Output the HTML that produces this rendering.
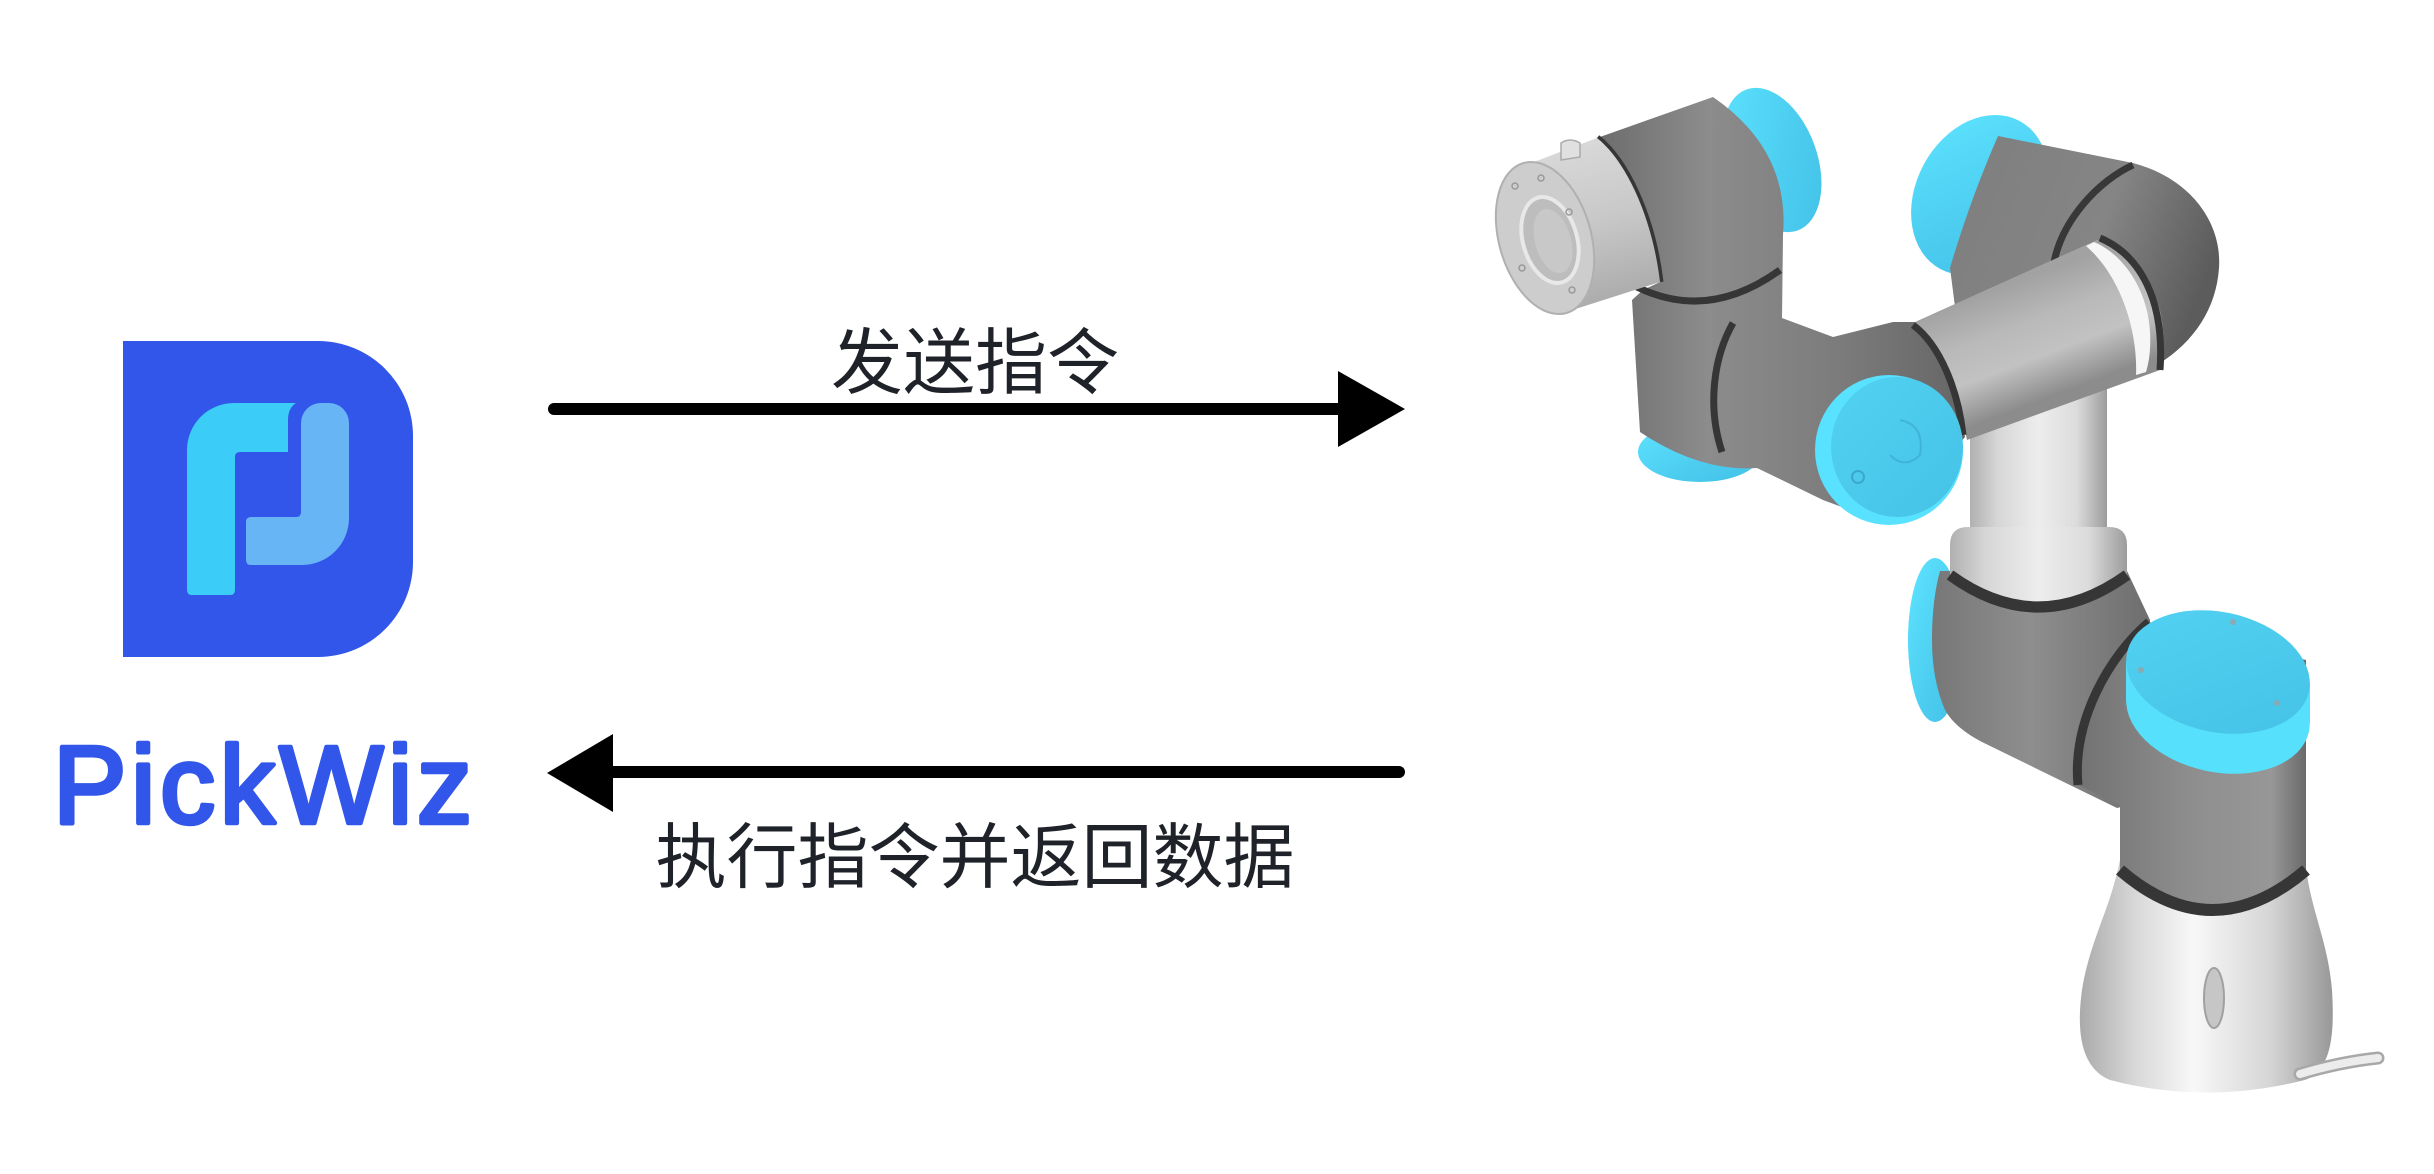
<!DOCTYPE html>
<html>
<head>
<meta charset="utf-8">
<style>
html,body{margin:0;padding:0;background:#fff;}
body{width:2434px;height:1174px;overflow:hidden;}
svg{display:block;}
</style>
</head>
<body>
<svg width="2434" height="1174" viewBox="0 0 2434 1174" xmlns="http://www.w3.org/2000/svg">
<defs>
  <linearGradient id="cyan" x1="0" y1="0" x2="1" y2="1">
    <stop offset="0" stop-color="#5ee4ff"/>
    <stop offset="0.6" stop-color="#4ccdf0"/>
    <stop offset="1" stop-color="#42c0e6"/>
  </linearGradient>
  <linearGradient id="cyanFace" x1="0" y1="0" x2="1" y2="1">
    <stop offset="0" stop-color="#52d2f2"/>
    <stop offset="1" stop-color="#45c2e6"/>
  </linearGradient>
  <linearGradient id="darkH" x1="0" y1="0" x2="1" y2="0">
    <stop offset="0" stop-color="#6c6c6c"/>
    <stop offset="0.3" stop-color="#8c8c8c"/>
    <stop offset="0.65" stop-color="#7c7c7c"/>
    <stop offset="1" stop-color="#666"/>
  </linearGradient>
  <linearGradient id="darkElbow" x1="0" y1="0" x2="1" y2="0.4">
    <stop offset="0" stop-color="#7e7e7e"/>
    <stop offset="0.6" stop-color="#858585"/>
    <stop offset="1" stop-color="#5c5c5c"/>
  </linearGradient>
  <linearGradient id="darkShoulder" x1="0" y1="0" x2="1" y2="0">
    <stop offset="0" stop-color="#777"/>
    <stop offset="0.45" stop-color="#8e8e8e"/>
    <stop offset="1" stop-color="#6e6e6e"/>
  </linearGradient>
  <linearGradient id="darkBase" x1="0" y1="0" x2="1" y2="0">
    <stop offset="0" stop-color="#727272"/>
    <stop offset="0.5" stop-color="#8e8e8e"/>
    <stop offset="0.85" stop-color="#979797"/>
    <stop offset="1" stop-color="#6a6a6a"/>
  </linearGradient>
  <linearGradient id="lgH" x1="0" y1="0" x2="1" y2="0">
    <stop offset="0" stop-color="#b0b0b0"/>
    <stop offset="0.2" stop-color="#d6d6d6"/>
    <stop offset="0.5" stop-color="#ededed"/>
    <stop offset="0.78" stop-color="#dcdcdc"/>
    <stop offset="1" stop-color="#9c9c9c"/>
  </linearGradient>
  <linearGradient id="baseG" x1="0" y1="0" x2="1" y2="0">
    <stop offset="0" stop-color="#aaaaaa"/>
    <stop offset="0.22" stop-color="#d8d8d8"/>
    <stop offset="0.45" stop-color="#f8f8f8"/>
    <stop offset="0.75" stop-color="#d6d6d6"/>
    <stop offset="1" stop-color="#989898"/>
  </linearGradient>
  <linearGradient id="foreG" gradientUnits="userSpaceOnUse" x1="2000" y1="288" x2="2042" y2="400">
    <stop offset="0" stop-color="#a2a2a2"/>
    <stop offset="0.35" stop-color="#b9b9b9"/>
    <stop offset="0.65" stop-color="#c2c2c2"/>
    <stop offset="1" stop-color="#8c8c8c"/>
  </linearGradient>
  <linearGradient id="flangeG" gradientUnits="userSpaceOnUse" x1="1560" y1="150" x2="1600" y2="300">
    <stop offset="0" stop-color="#d8d8d8"/>
    <stop offset="0.5" stop-color="#c8c8c8"/>
    <stop offset="1" stop-color="#adadad"/>
  </linearGradient>
</defs>

<rect width="2434" height="1174" fill="#ffffff"/>

<!-- PickWiz logo -->
<path d="M123,341 H318 A95,95 0 0 1 413,436 V562 A95,95 0 0 1 318,657 H123 Z" fill="#3156e9"/>
<path d="M187,590 V450 A47,47 0 0 1 234,403 H296 Q288,408 288,420 V452 H240 Q235,452 235,457 V590 Q235,595 230,595 H192 Q187,595 187,590 Z" fill="#3bcdf7"/>
<path d="M321,403 H329 A20,20 0 0 1 349,423 V518 A47,47 0 0 1 302,565 H251 Q246,565 246,560 V522 Q246,517 251,517 H296 Q301,517 301,512 V423 A20,20 0 0 1 321,403 Z" fill="#68b5f6"/>
<text x="53" y="823" font-family="'Liberation Sans', sans-serif" font-size="110" fill="#3156e9" stroke="#3156e9" stroke-width="4.5" stroke-linejoin="round" textLength="419" lengthAdjust="spacing">PickWiz</text>

<!-- Arrows -->
<line x1="554" y1="409" x2="1340" y2="409" stroke="#000" stroke-width="12" stroke-linecap="round"/>
<polygon points="1338,371 1405,409 1338,447" fill="#000"/>
<line x1="610" y1="772" x2="1399" y2="772" stroke="#000" stroke-width="12" stroke-linecap="round"/>
<polygon points="613,734 547,773 613,812" fill="#000"/>

<!-- Labels -->
<text x="975" y="388" text-anchor="middle" font-family="'Liberation Sans', 'Noto Sans CJK SC', sans-serif" font-size="72" fill="#1f2329">发送指令</text>
<text x="975" y="882" text-anchor="middle" font-family="'Liberation Sans', 'Noto Sans CJK SC', sans-serif" font-size="71" fill="#1f2329">执行指令并返回数据</text>

<!-- ================= Robot ================= -->
<!-- Elbow cap + housing -->
<ellipse cx="1980" cy="195" rx="64" ry="84" transform="rotate(28 1980 195)" fill="url(#cyan)"/>
<path d="M1998,136 L2133,163 C2190,178 2222,222 2219,268 C2216,312 2190,348 2148,370 L2000,410 L1958,330 L1950,268 Q1970,200 1998,136 Z" fill="url(#darkElbow)"/>
<path d="M2133,165 C2100,180 2060,220 2053,268" fill="none" stroke="#383838" stroke-width="7"/>

<!-- Upper arm -->
<rect x="1970" y="330" width="137" height="200" fill="url(#lgH)"/>

<!-- Base (light gray) -->
<path d="M2120,860 C2110,910 2090,940 2082,990 C2075,1040 2085,1070 2110,1080 Q2205,1105 2305,1080 C2330,1070 2335,1040 2332,990 C2328,940 2310,910 2305,860 Z" fill="url(#baseG)"/>
<path d="M2300,1074 Q2340,1062 2378,1058" fill="none" stroke="#a8a8a8" stroke-width="13" stroke-linecap="round"/>
<path d="M2300,1074 Q2340,1062 2378,1058" fill="none" stroke="#ececec" stroke-width="8" stroke-linecap="round"/>
<ellipse cx="2214" cy="998" rx="10" ry="30" fill="#c6c6c6" stroke="#a0a0a0" stroke-width="2"/>

<!-- Shoulder cap + housing + link -->
<ellipse cx="1935" cy="640" rx="27" ry="82" fill="url(#cyan)"/>
<path d="M1940,571 L2127,571 L2150,620 L2150,800 L2117,808 L1982,742 Q1955,728 1945,710 Q1932,680 1932,640 Q1932,600 1940,571 Z" fill="url(#darkShoulder)"/>

<!-- Collar of upper arm -->
<path d="M1950,578 V545 Q1950,527 1968,527 H2109 Q2127,527 2127,545 V578 Q2038,640 1950,578 Z" fill="url(#lgH)"/>
<path d="M1950,575 Q2038,639 2127,575" fill="none" stroke="#363636" stroke-width="11"/>

<!-- Base joint body -->
<path d="M2149,622 L2306,660 V872 Q2212,950 2120,872 V805 L2078,785 C2072,720 2110,655 2149,622 Z" fill="url(#darkBase)"/>
<path d="M2149,622 C2110,655 2072,720 2078,785" fill="none" stroke="#363636" stroke-width="9"/>
<path d="M2120,870 Q2212,950 2306,870" fill="none" stroke="#363636" stroke-width="12"/>

<!-- Base joint cap -->
<ellipse cx="2218" cy="712" rx="93" ry="60" transform="rotate(12 2218 712)" fill="#56e0fb"/>
<polygon points="2126,661 2310,683 2310,723 2126,701" fill="#56e0fb"/>
<ellipse cx="2218" cy="672" rx="93" ry="60" transform="rotate(12 2218 672)" fill="url(#cyanFace)"/>
<circle cx="2233" cy="622" r="3" fill="#8aa9b3"/>
<circle cx="2141" cy="670" r="3" fill="#8aa9b3"/>
<circle cx="2277" cy="703" r="3" fill="#8aa9b3"/>

<!-- Forearm -->
<path d="M1915,322 L2097,240 C2130,250 2160,285 2163,330 C2165,350 2163,360 2160,370 L1967,440 C1958,395 1940,350 1915,322 Z" fill="url(#foreG)"/>
<path d="M2094,242 C2125,255 2148,292 2150,332 C2151,350 2149,362 2146,372 L2136,375 C2138,330 2120,275 2086,246 Z" fill="#f6f6f6"/>
<path d="M2100,238 C2140,255 2165,300 2160,370" fill="none" stroke="#363636" stroke-width="7"/>

<!-- Wrist caps behind -->
<ellipse cx="1772" cy="160" rx="45" ry="75" transform="rotate(-20 1772 160)" fill="url(#cyan)"/>
<ellipse cx="1700" cy="452" rx="62" ry="30" fill="url(#cyan)"/>

<!-- Wrist dark mass -->
<path d="M1597,138 L1713,97 Q1790,150 1783,235 L1782,318 L1833,337 L1893,322 L1915,322 C1940,345 1958,390 1965,437 L1890,525 L1823,500 L1757,468 Q1700,472 1640,432 L1632,300 L1643,290 L1660,282 Z" fill="url(#darkH)"/>
<path d="M1913,325 C1940,345 1958,390 1963,435" fill="none" stroke="#363636" stroke-width="7"/>
<path d="M1597,138 C1625,160 1652,215 1660,282" fill="none" stroke="#363636" stroke-width="7"/>
<path d="M1637,287 Q1708,322 1780,270" fill="none" stroke="#363636" stroke-width="7"/>
<path d="M1733,323 C1712,360 1708,410 1722,452" fill="none" stroke="#363636" stroke-width="7"/>

<!-- Wrist1 cap -->
<ellipse cx="1889" cy="450" rx="74" ry="75" fill="#58e2ff"/>
<ellipse cx="1897" cy="447" rx="66" ry="70" fill="url(#cyanFace)"/>
<circle cx="1858" cy="477" r="6" fill="none" stroke="#3aa8cc" stroke-width="2"/>
<path d="M1900,420 Q1925,425 1920,455 Q1905,470 1890,455" fill="none" stroke="#3fb4d8" stroke-width="2"/>

<!-- Tool flange -->
<path d="M1513,170 L1597,138 C1625,160 1652,215 1660,282 L1563,313 Z" fill="url(#flangeG)"/>
<ellipse cx="1545" cy="238" rx="46" ry="78" transform="rotate(-16 1545 238)" fill="#cdcdcd" stroke="#b0b0b0" stroke-width="2"/>
<ellipse cx="1550" cy="240" rx="27" ry="44" transform="rotate(-16 1550 240)" fill="#bdbdbd" stroke="#e8e8e8" stroke-width="4"/>
<ellipse cx="1553" cy="241" rx="18" ry="33" transform="rotate(-16 1553 241)" fill="#c8c8c8"/>
<circle cx="1515" cy="186" r="3" fill="none" stroke="#999" stroke-width="1.5"/>
<circle cx="1541" cy="178" r="3" fill="none" stroke="#999" stroke-width="1.5"/>
<circle cx="1569" cy="212" r="3" fill="none" stroke="#999" stroke-width="1.5"/>
<circle cx="1572" cy="290" r="3" fill="none" stroke="#999" stroke-width="1.5"/>
<circle cx="1522" cy="268" r="3" fill="none" stroke="#999" stroke-width="1.5"/>
<path d="M1561,160 V143 Q1570,137 1580,143 V157 Z" fill="#e0e0e0" stroke="#aaa" stroke-width="1.5"/>
</svg>
</body>
</html>
